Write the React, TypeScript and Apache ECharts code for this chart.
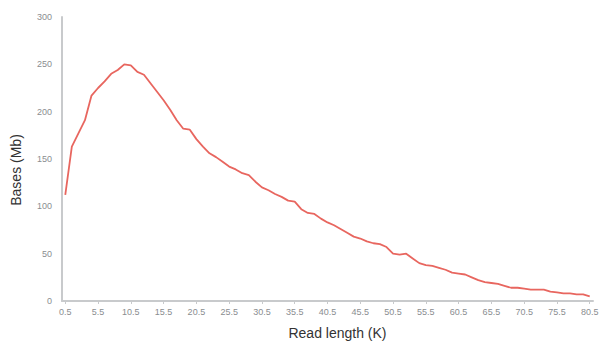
import React, { useEffect, useRef } from "react";
import * as echarts from "echarts";

const readLengths: string[] = Array.from({ length: 81 }, (_, i) => (i + 0.5).toFixed(1));
const basesMb: number[] = [
  112, 163, 177, 191, 217, 225, 232, 240, 244, 250,
  249, 242, 239, 230, 221, 212, 202, 191, 182, 181,
  171, 163, 156, 152, 147, 142, 139, 135, 133, 126,
  120, 117, 113, 110, 106, 105, 97, 93, 92, 87,
  83, 80, 76, 72, 68, 66, 63, 61, 60, 57,
  50, 49, 50, 45, 40, 38, 37, 35, 33, 30,
  29, 28, 25, 22, 20, 19, 18, 16, 14, 14,
  13, 12, 12, 12, 10, 9, 8, 8, 7, 7,
  5,
];
const yTicks = { min: 0, max: 300, interval: 50 };

export default function App() {
  const ref = useRef<HTMLDivElement>(null);
  useEffect(() => {
    if (!ref.current) return;
    const chart = echarts.init(ref.current, undefined, { renderer: "svg" });
    const font = "Liberation Sans";
    chart.setOption({
      animation: false,
      backgroundColor: "#ffffff",
      textStyle: { fontFamily: font },
      grid: { left: 62, right: 7, top: 17, bottom: 40, outerBoundsMode: "none", containLabel: false },
      xAxis: {
        type: "category",
        data: readLengths,
        boundaryGap: true,
        name: "Read length (K)",
        nameLocation: "middle",
        nameGap: 25,
        nameTextStyle: { fontSize: 14, color: "#333", fontFamily: font, padding: [0, 0, 0, 20] },
        axisLine: { lineStyle: { color: "#c8cacc", width: 2 } },
        axisTick: { show: true, interval: 4, alignWithLabel: true, length: 3, lineStyle: { color: "#c8cacc" } },
        axisLabel: { interval: 4, fontSize: 9, color: "#8a8d90", margin: 6 },
        splitLine: { show: false },
      },
      yAxis: {
        type: "value",
        min: yTicks.min,
        max: yTicks.max,
        interval: yTicks.interval,
        axisLine: { show: true, lineStyle: { color: "#c8cacc", width: 2 } },
        axisTick: { show: false },
        axisLabel: { fontSize: 9, color: "#8a8d90", margin: 10 },
        splitLine: { show: false },
      },
      graphic: [
        {
          type: "text",
          x: 16,
          y: 170,
          rotation: Math.PI / 2,
          style: {
            text: "Bases (Mb)",
            fontSize: 14,
            fill: "#333",
            fontFamily: font,
            align: "center",
            verticalAlign: "middle",
          },
        },
      ],
      series: [
        {
          type: "line",
          data: basesMb,
          showSymbol: false,
          lineStyle: { color: "#e8665f", width: 1.8 },
          itemStyle: { color: "#e8665f" },
        },
      ],
    });
    return () => chart.dispose();
  }, []);
  return <div ref={ref} style={{ width: 600, height: 341, position: "absolute", left: 0, top: 0 }} />;
}
